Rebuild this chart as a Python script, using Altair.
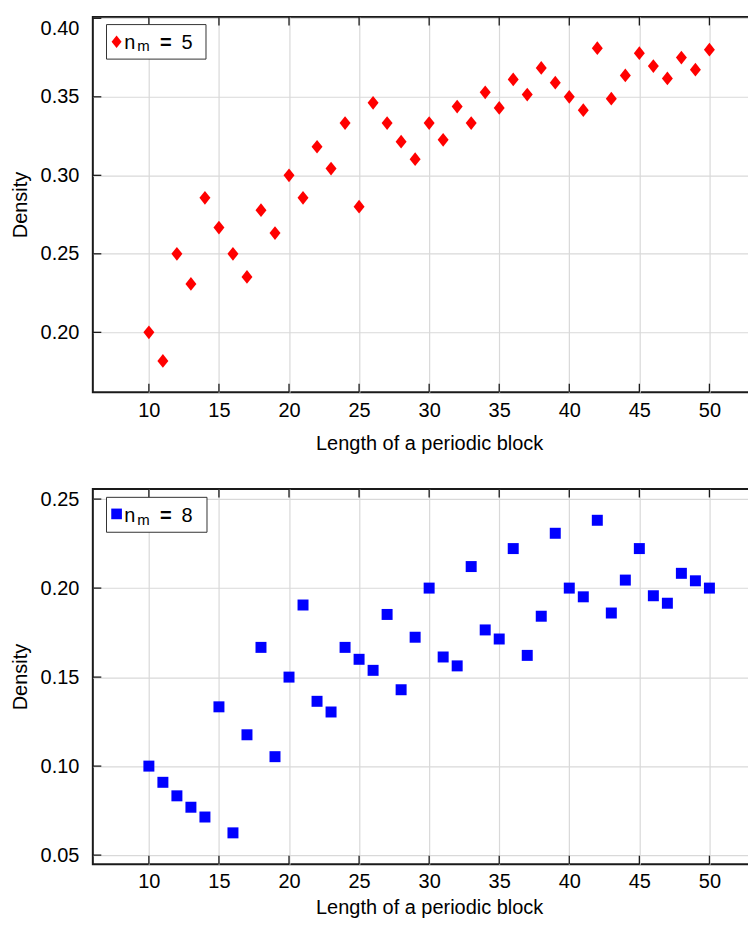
import altair as alt
import pandas as pd

# ---------------- data ----------------
block_length = [10, 11, 12, 13, 14, 15, 16, 17, 18, 19, 20, 21, 22, 23, 24, 25,
                26, 27, 28, 29, 30, 31, 32, 33, 34, 35, 36, 37, 38, 39, 40, 41,
                42, 43, 44, 45, 46, 47, 48, 49, 50]

density_nm5 = [0.2000, 0.1818, 0.2500, 0.2308, 0.2857, 0.2667, 0.2500, 0.2353,
               0.2778, 0.2632, 0.3000, 0.2857, 0.3182, 0.3043, 0.3333, 0.2800,
               0.3462, 0.3333, 0.3214, 0.3103, 0.3333, 0.3226, 0.3438, 0.3333,
               0.3529, 0.3429, 0.3611, 0.3514, 0.3684, 0.3590, 0.3500, 0.3415,
               0.3810, 0.3488, 0.3636, 0.3778, 0.3696, 0.3617, 0.3750, 0.3673,
               0.3800]

density_nm8 = [0.1000, 0.0909, 0.0833, 0.0769, 0.0714, 0.1333, 0.0625, 0.1176,
               0.1667, 0.1053, 0.1500, 0.1905, 0.1364, 0.1304, 0.1667, 0.1600,
               0.1538, 0.1852, 0.1429, 0.1724, 0.2000, 0.1613, 0.1563, 0.2121,
               0.1765, 0.1714, 0.2222, 0.1622, 0.1842, 0.2308, 0.2000, 0.1951,
               0.2381, 0.1860, 0.2045, 0.2222, 0.1957, 0.1915, 0.2083, 0.2041,
               0.2000]

x_ticks = [10, 15, 20, 25, 30, 35, 40, 45, 50]
y_ticks_nm5 = [0.20, 0.25, 0.30, 0.35, 0.40]
y_ticks_nm8 = [0.05, 0.10, 0.15, 0.20, 0.25]

x_domain = [6, 54]
y_domain_nm5 = [0.1619, 0.4009]
y_domain_nm8 = [0.0449, 0.2557]

legend_nm5 = "5"
legend_nm8 = "8"

# ---------------- styling ----------------
FONT = "Liberation Sans, Arial, Helvetica, sans-serif"
W = 674
H = 376
TICK = 8.5
INK = "#1a1a1a"
DIAMOND = "M0,-1.25L1,0L0,1.25L-1,0Z"


def panel(values, color, shape, size, ydom, yticks, nm_text, box, sym_size, ty,
          x_label_pad, x_title_pad):
    df = pd.DataFrame({"len": block_length, "density": values})
    xs = alt.Scale(domain=x_domain, nice=False, zero=False)
    ys = alt.Scale(domain=ydom, nice=False, zero=False)

    xaxis = alt.Axis(values=x_ticks, title="Length of a periodic block",
                     grid=True, gridColor="#d9d9d9", gridWidth=1.2,
                     domain=False, ticks=False, labelPadding=x_label_pad,
                     titlePadding=x_title_pad)
    yaxis = alt.Axis(values=yticks, format=".2f", title="Density",
                     grid=True, gridColor="#d9d9d9", gridWidth=1.2,
                     domain=False, ticks=False, labelPadding=14,
                     labelFlush=5, titlePadding=10)

    points = alt.Chart(df).mark_point(
        shape=shape, filled=True, size=size, color=color, opacity=1,
        strokeWidth=0
    ).encode(
        x=alt.X("len:Q", scale=xs, axis=xaxis),
        y=alt.Y("density:Q", scale=ys, axis=yaxis),
    )

    xt = pd.DataFrame({"t": x_ticks})
    yt = pd.DataFrame({"t": yticks})
    rs = dict(color=INK, strokeWidth=1.3)
    x_bottom = alt.Chart(xt).mark_rule(**rs).encode(
        x=alt.X("t:Q", scale=xs, axis=xaxis), y=alt.value(H), y2=alt.value(H - TICK))
    x_top = alt.Chart(xt).mark_rule(**rs).encode(
        x=alt.X("t:Q", scale=xs, axis=xaxis), y=alt.value(0), y2=alt.value(TICK))
    y_left = alt.Chart(yt).mark_rule(**rs).encode(
        y=alt.Y("t:Q", scale=ys, axis=yaxis), x=alt.value(0), x2=alt.value(TICK))
    y_right = alt.Chart(yt).mark_rule(**rs).encode(
        y=alt.Y("t:Q", scale=ys, axis=yaxis), x=alt.value(W), x2=alt.value(W - TICK))

    one = pd.DataFrame({"k": [0]})
    bx0, by0, bx1, by1 = box
    lbox = alt.Chart(one).mark_rect(fill="white", stroke="#333333", strokeWidth=1).encode(
        x=alt.value(bx0), x2=alt.value(bx1), y=alt.value(by0), y2=alt.value(by1))
    lsym = alt.Chart(one).mark_point(
        shape=shape, filled=True, size=sym_size, color=color, opacity=1, strokeWidth=0
    ).encode(x=alt.value(23.8), y=alt.value(25))
    tstyle = dict(font=FONT, color="black", align="left", baseline="alphabetic")
    t_n = alt.Chart(one).mark_text(fontSize=20, **tstyle).encode(
        x=alt.value(31.4), y=alt.value(ty), text=alt.value("n"))
    t_m = alt.Chart(one).mark_text(fontSize=15, **tstyle).encode(
        x=alt.value(44.4), y=alt.value(ty + 2.6), text=alt.value("m"))
    t_eq = alt.Chart(one).mark_text(fontSize=20, fontWeight="bold", **tstyle).encode(
        x=alt.value(67.2), y=alt.value(ty), text=alt.value("="))
    t_v = alt.Chart(one).mark_text(fontSize=20, **tstyle).encode(
        x=alt.value(88.8), y=alt.value(ty), text=alt.value(nm_text))

    return alt.layer(points, x_bottom, x_top, y_left, y_right,
                     lbox, lsym, t_n, t_m, t_eq, t_v).properties(width=W, height=H)


top = panel(density_nm5, "#ff0000", DIAMOND, 121, y_domain_nm5, y_ticks_nm5,
            legend_nm5, (13.7, 7.7, 113.4, 42.3), 100, 31.7, 8, 13)
bottom = panel(density_nm8, "#0000ff", "square", 121, y_domain_nm8, y_ticks_nm8,
               legend_nm8, (13.7, 8.4, 114.4, 43.4), 114, 33.2, 7, 6)

chart = alt.vconcat(top, bottom, spacing=33).properties(
    padding={"left": 1, "top": 6, "right": -19.5, "bottom": 0}
).configure_view(
    stroke=INK, strokeWidth=2
).configure_axis(
    labelFont=FONT, labelFontSize=20, labelColor="black",
    titleFont=FONT, titleFontSize=20, titleFontWeight="normal", titleColor="black"
)

chart.save("out.html", embed_options={"renderer": "svg", "actions": False})
